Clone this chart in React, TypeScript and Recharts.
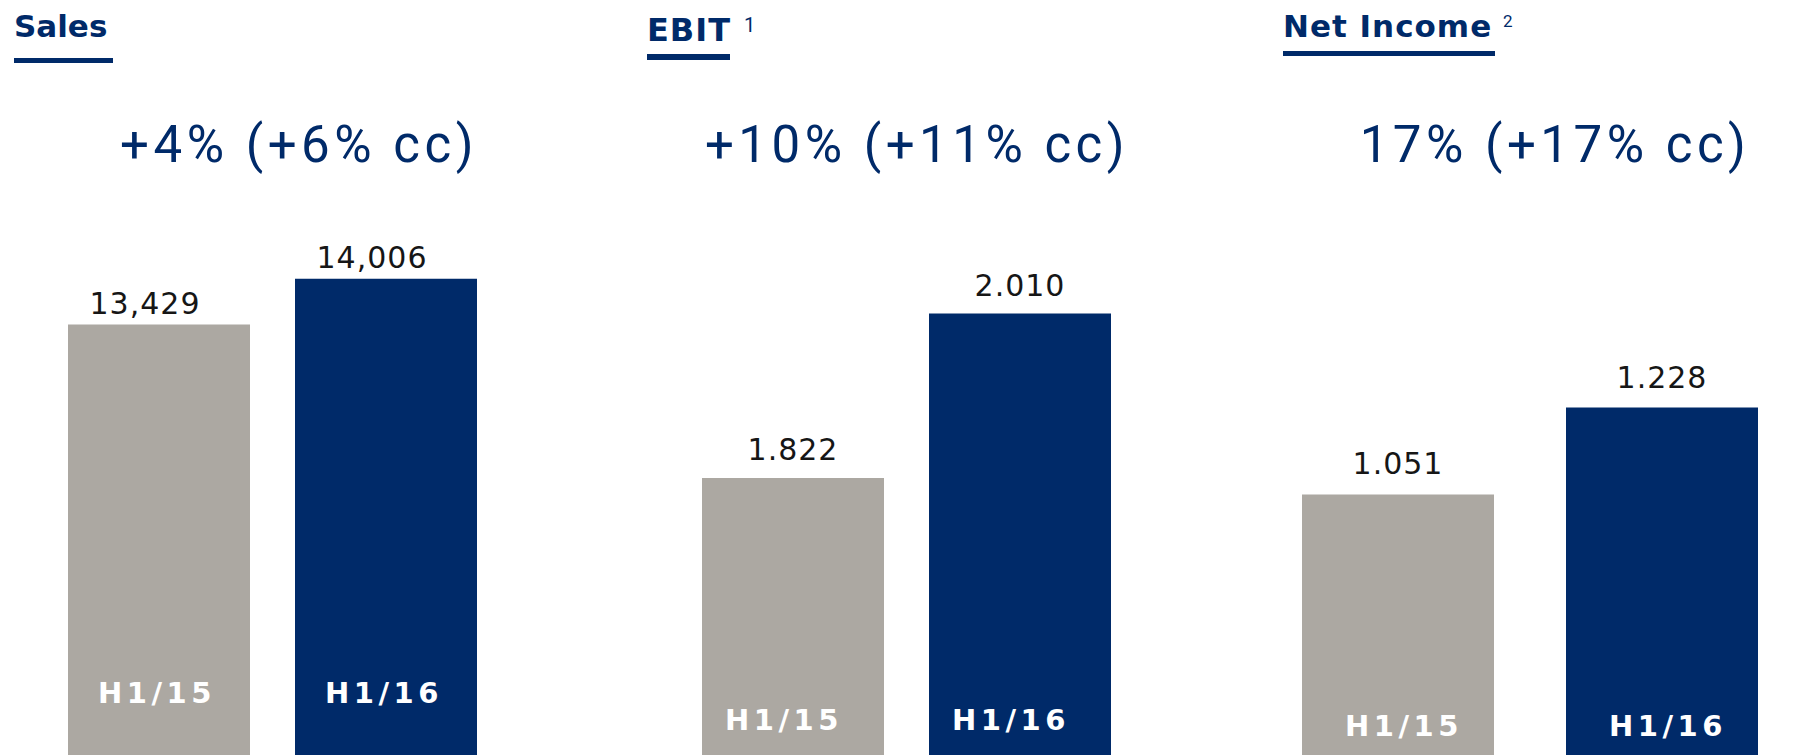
import { Bar, BarChart, Cell, LabelList, XAxis, YAxis } from "recharts";

const periods = ["H1/15", "H1/16"];
const salesValues = [13429, 14006];
const ebitValues = [1822, 2010];
const netIncomeValues = [1051, 1228];
const salesLabels = ["13,429", "14,006"];
const ebitLabels = ["1.822", "2.010"];
const netIncomeLabels = ["1.051", "1.228"];
const titles = ["Sales", "EBIT", "Net Income"];
const footnotes = ["", "1", "2"];
const growthLabels = ["+4% (+6% cc)", "+10% (+11% cc)", "17% (+17% cc)"];

const NAVY = "#002a69";
const GREY = "#aca8a2";
const barColors = [GREY, NAVY];

type Row = { period: string; value: number; label: string };

const toRows = (values: number[], labels: string[]): Row[] =>
    periods.map((p, i) => ({ period: p, value: values[i], label: labels[i] }));

type PanelProps = {
    data: Row[];
    domain: [number, number];
    left: number;
    width: number;
    barSize: number;
    valueDx: number;
    valueGap: number;
    periodDx: number;
    periodFromBottom: number;
};

function Panel(props: PanelProps) {
    return (
        <div style={{ position: "absolute", left: props.left, top: 0 }}>
            <BarChart
                width={props.width}
                height={755}
                data={props.data}
                margin={{ top: 200, right: 0, bottom: 0, left: 0 }}
            >
                <XAxis dataKey="period" hide />
                <YAxis hide domain={props.domain} allowDataOverflow />
                <Bar dataKey="value" barSize={props.barSize} isAnimationActive={false}>
                    {props.data.map((_, i) => (
                        <Cell key={`c-${i}`} fill={barColors[i]} />
                    ))}
                    <LabelList
                        dataKey="label"
                        content={(p: any) => (
                            <text
                                x={p.x + p.width / 2 + props.valueDx}
                                y={p.y - props.valueGap}
                                textAnchor="middle"
                                fontFamily="DejaVu Sans"
                                fontSize={30}
                                letterSpacing={1}
                                fill="#161616"
                            >
                                {p.value}
                            </text>
                        )}
                    />
                    <LabelList
                        dataKey="period"
                        content={(p: any) => (
                            <text
                                x={p.x + p.width / 2 + props.periodDx}
                                y={p.y + p.height - props.periodFromBottom}
                                textAnchor="middle"
                                fontFamily="DejaVu Sans"
                                fontWeight="bold"
                                fontSize={29}
                                letterSpacing={4.5}
                                fill="#ffffff"
                            >
                                {p.value}
                            </text>
                        )}
                    />
                </Bar>
            </BarChart>
        </div>
    );
}

type TitleProps = {
    text: string;
    note: string;
    left: number;
    top: number;
    size: number;
    spacing: number;
    noteLeft: number;
    noteTop: number;
    noteSize: number;
    lineWidth: number;
    lineTop: number;
    lineThick: number;
};

function Title(props: TitleProps) {
    return (
        <>
            <div
                style={{
                    position: "absolute",
                    left: props.left,
                    top: props.top,
                    fontFamily: "DejaVu Sans",
                    fontWeight: "bold",
                    fontSize: props.size,
                    lineHeight: `${Math.round(props.size * 1.164)}px`,
                    letterSpacing: props.spacing,
                    color: NAVY,
                    whiteSpace: "nowrap",
                }}
            >
                {props.text}
            </div>
            {props.note && (
                <div
                    style={{
                        position: "absolute",
                        left: props.noteLeft,
                        top: props.noteTop,
                        fontFamily: "Roboto",
                        fontSize: props.noteSize,
                        lineHeight: `${Math.round(props.noteSize * 1.2)}px`,
                        color: NAVY,
                    }}
                >
                    {props.note}
                </div>
            )}
            <div
                style={{
                    position: "absolute",
                    left: props.left,
                    top: props.lineTop,
                    width: props.lineWidth,
                    height: props.lineThick,
                    background: NAVY,
                }}
            />
        </>
    );
}

function Growth(props: { text: string; center: number }) {
    return (
        <div
            style={{
                position: "absolute",
                left: props.center - 300,
                width: 600,
                top: 115,
                textAlign: "center",
                fontFamily: "Roboto",
                fontSize: 51,
                lineHeight: "60px",
                color: NAVY,
                letterSpacing: 4.5,
                whiteSpace: "nowrap",
            }}
        >
            {props.text}
        </div>
    );
}

export default function App() {
    return (
        <div style={{ position: "fixed", left: 0, top: 0, width: 1810, height: 755, overflow: "hidden", background: "#fff" }}>
            <Title
                text={titles[0]}
                note={footnotes[0]}
                left={14}
                top={8}
                size={31}
                spacing={0}
                noteLeft={0}
                noteTop={0}
                noteSize={17}
                lineWidth={99}
                lineTop={58}
                lineThick={5}
            />
            <Title
                text={titles[1]}
                note={footnotes[1]}
                left={647}
                top={12}
                size={32}
                spacing={1}
                noteLeft={744}
                noteTop={13}
                noteSize={20}
                lineWidth={83}
                lineTop={54}
                lineThick={6}
            />
            <Title
                text={titles[2]}
                note={footnotes[2]}
                left={1283}
                top={8}
                size={31}
                spacing={1}
                noteLeft={1503}
                noteTop={11}
                noteSize={17}
                lineWidth={212}
                lineTop={51}
                lineThick={5}
            />

            <Growth text={growthLabels[0]} center={299} />
            <Growth text={growthLabels[1]} center={917} />
            <Growth text={growthLabels[2]} center={1555} />

            <Panel
                data={toRows(salesValues, salesLabels)}
                domain={[8000, 15000]}
                left={45}
                width={454}
                barSize={182}
                valueDx={-14}
                valueGap={11}
                periodDx={-2}
                periodFromBottom={52}
            />
            <Panel
                data={toRows(ebitValues, ebitLabels)}
                domain={[1505, 2140]}
                left={679}
                width={454}
                barSize={182}
                valueDx={0}
                valueGap={18}
                periodDx={-9}
                periodFromBottom={25}
            />
            <Panel
                data={toRows(netIncomeValues, netIncomeLabels)}
                domain={[520, 1651]}
                left={1266}
                width={528}
                barSize={192}
                valueDx={0}
                valueGap={20}
                periodDx={6}
                periodFromBottom={19}
            />
        </div>
    );
}
